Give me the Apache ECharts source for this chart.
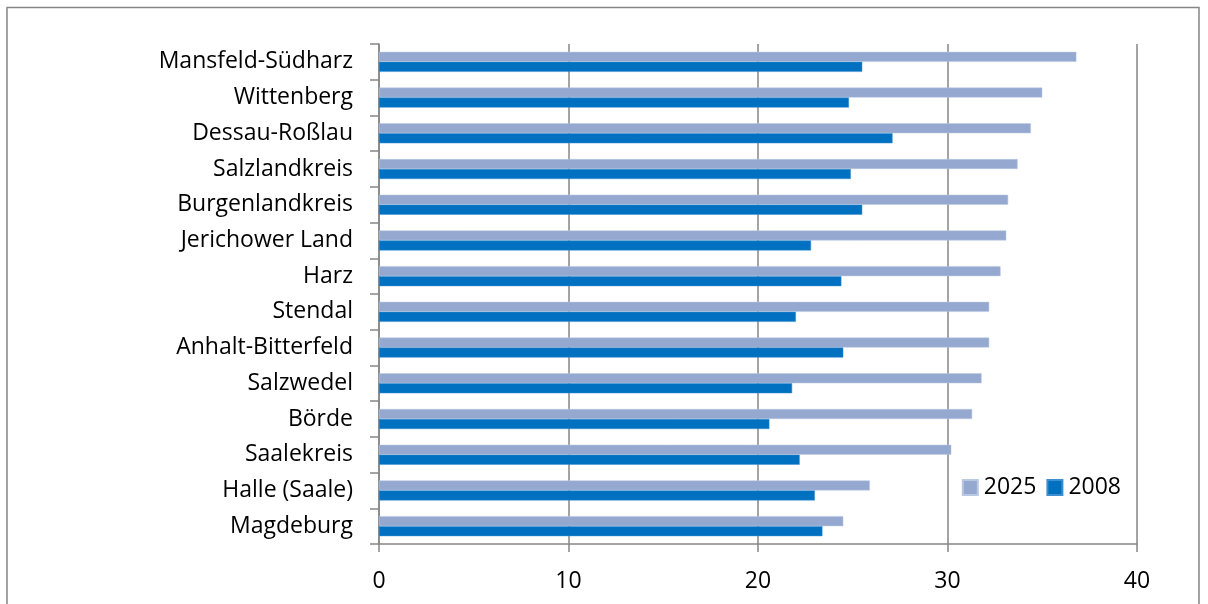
<!DOCTYPE html>
<html>
<head>
<meta charset="utf-8">
<script src="https://cdn.jsdelivr.net/npm/echarts@6/dist/echarts.min.js"></script>
<style>
  html, body { margin: 0; padding: 0; background: #fff; }
  #chart { width: 1208px; height: 604px; }
</style>
</head>
<body>
<div id="chart"></div>
<script>
const categories = ["Mansfeld-Südharz", "Wittenberg", "Dessau-Roßlau", "Salzlandkreis", "Burgenlandkreis", "Jerichower Land", "Harz", "Stendal", "Anhalt-Bitterfeld", "Salzwedel", "Börde", "Saalekreis", "Halle (Saale)", "Magdeburg"];
const values2025 = [36.8, 35.0, 34.4, 33.7, 33.2, 33.1, 32.8, 32.2, 32.2, 31.8, 31.3, 30.2, 25.9, 24.5];
const values2008 = [25.5, 24.8, 27.1, 24.9, 25.5, 22.8, 24.4, 22.0, 24.5, 21.8, 20.6, 22.2, 23.0, 23.4];
const seriesNames = ["2025", "2008"];
const xTicks = { min: 0, max: 40, interval: 10 };

const FONT = "Open Sans";
const chart = echarts.init(document.getElementById('chart'));
chart.setOption({
  animation: false,
  textStyle: { fontFamily: FONT },
  graphic: [{
    type: 'rect', silent: true, z: -1,
    shape: { x: 7, y: 7.5, width: 1192, height: 620 },
    style: { fill: 'none', stroke: '#868686', lineWidth: 1.5 }
  }],
  grid: { left: 379, right: 71, top: 44, bottom: 60, containLabel: false },
  legend: {
    data: seriesNames,
    right: 82, top: 471,
    itemWidth: 15, itemHeight: 15, itemGap: 10,
    icon: 'rect',
    textStyle: { fontFamily: FONT, fontSize: 23, color: '#000', padding: [0, 0, 0, 1] }
  },
  xAxis: {
    type: 'value', min: xTicks.min, max: xTicks.max, interval: xTicks.interval,
    axisLine: { show: true, lineStyle: { color: '#868686', width: 1.5 } },
    axisTick: { show: true, length: 8, lineStyle: { color: '#868686', width: 1.5 } },
    splitLine: { show: true, lineStyle: { color: '#868686', width: 1.5 } },
    axisLabel: { fontSize: 23, color: '#000', margin: 26, fontFamily: FONT }
  },
  yAxis: {
    type: 'category', data: categories, inverse: true,
    axisLine: { show: true, lineStyle: { color: '#868686', width: 1.5 } },
    axisTick: { show: true, length: 9, alignWithLabel: false, lineStyle: { color: '#868686', width: 1.5 } },
    axisLabel: { fontSize: 23, color: '#000', margin: 26, fontFamily: FONT }
  },
  series: [
    { name: seriesNames[0], type: 'bar', data: values2025, barWidth: 10, barGap: '0%',
      itemStyle: { color: '#95A9D0', borderColor: '#B9C8E2', borderWidth: 0.5 } },
    { name: seriesNames[1], type: 'bar', data: values2008, barWidth: 10, barGap: '0%',
      itemStyle: { color: '#0070C0', borderColor: '#3D8FCF', borderWidth: 0.5 } }
  ]
});
</script>
</body>
</html>
